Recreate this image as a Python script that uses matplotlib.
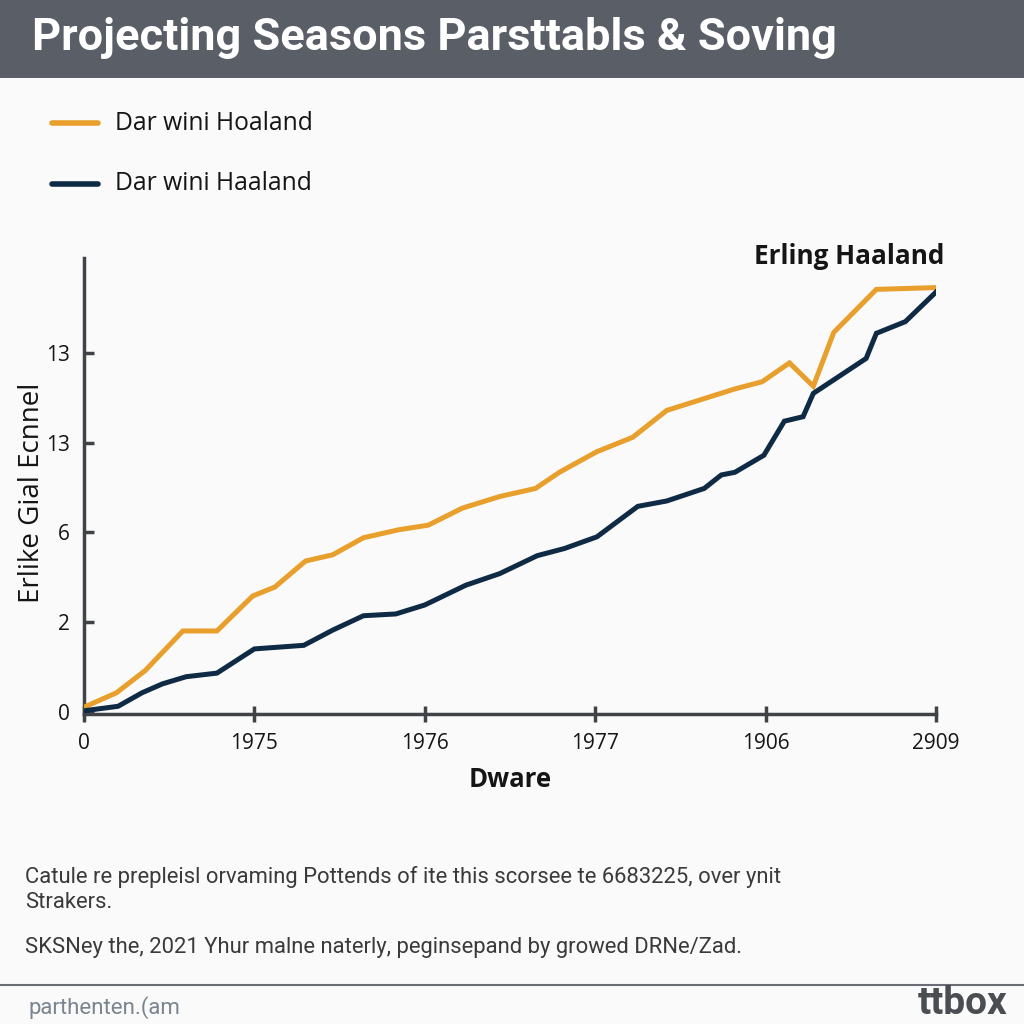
import matplotlib.pyplot as plt
from matplotlib.patches import Rectangle
from matplotlib.lines import Line2D

# ---------------------------------------------------------
# data
# ---------------------------------------------------------
orange_x = [0.00, 0.19, 0.36, 0.58, 0.78, 0.99, 1.12, 1.30, 1.46, 1.64, 1.85, 2.02,
            2.22, 2.44, 2.65, 2.79, 3.01, 3.22, 3.42, 3.62, 3.82, 3.98, 4.14, 4.28,
            4.40, 4.65, 5.00]
orange_y = [0.05, 0.21, 0.46, 0.90, 0.90, 1.29, 1.39, 1.68, 1.75, 1.94, 2.03, 2.08,
            2.27, 2.40, 2.49, 2.67, 2.90, 3.06, 3.36, 3.48, 3.60, 3.68, 3.89, 3.63,
            4.23, 4.71, 4.73]

navy_x = [0.00, 0.20, 0.34, 0.46, 0.60, 0.78, 1.00, 1.29, 1.46, 1.64, 1.83, 2.00,
          2.24, 2.44, 2.66, 2.82, 3.01, 3.25, 3.42, 3.64, 3.74, 3.82, 3.99, 4.11,
          4.22, 4.28, 4.59, 4.65, 4.82, 5.00]
navy_y = [0.01, 0.06, 0.21, 0.31, 0.39, 0.43, 0.70, 0.74, 0.91, 1.07, 1.09, 1.19,
          1.41, 1.54, 1.74, 1.82, 1.95, 2.29, 2.35, 2.49, 2.64, 2.67, 2.86, 3.24,
          3.29, 3.55, 3.94, 4.22, 4.35, 4.68]

x_ticks = [0, 1, 2, 3, 4, 5]
x_tick_labels = ['0', '1975', '1976', '1977', '1906', '2909']
y_ticks = [0, 1, 2, 3, 4]
y_tick_labels = ['0', '2', '6', '13', '13']

series_names = ['Dar wini Hoaland', 'Dar wini Haaland']

ORANGE = '#E89F2B'
NAVY = '#0F2A44'
AXIS = '#3F4247'
BG = '#FAFAFA'

plt.rcParams['font.family'] = ['Open Sans', 'DejaVu Sans']

fig = plt.figure(figsize=(10.24, 10.24), dpi=100, facecolor=BG)

# header band
fig.patches.append(Rectangle((0, 1 - 78 / 1024), 1, 78 / 1024, transform=fig.transFigure,
                             facecolor='#5A5E66', edgecolor='none', zorder=0))
fig.text(32 / 1024, 1 - 38 / 1024, 'Projecting Seasons Parsttabls & Soving',
         color='white', fontsize=32.5, fontweight='bold', family='Roboto',
         va='center', ha='left')

# legend drawn by hand at top-left
for i, (name, col) in enumerate(zip(series_names, [ORANGE, NAVY])):
    yy = 1 - (123 + 61 * i) / 1024
    fig.lines.append(Line2D([52 / 1024, 98 / 1024], [yy, yy], transform=fig.transFigure,
                            color=col, lw=4, solid_capstyle='round'))
    fig.text(115 / 1024, yy, name, fontsize=17.7, color='#151515', va='center', ha='left')

# main axes
ax = fig.add_axes([84 / 1024, 1 - 714 / 1024, 852 / 1024, 456 / 1024])
ax.set_facecolor(BG)
ax.plot(orange_x, orange_y, color=ORANGE, lw=3.6, solid_joinstyle='miter', zorder=3)
ax.plot(navy_x, navy_y, color=NAVY, lw=3.6, solid_joinstyle='miter', zorder=4)

ax.set_xlim(0, 5)
ax.set_ylim(-0.026, 5.06)
ax.set_xticks(x_ticks)
ax.set_xticklabels(x_tick_labels)
ax.set_yticks(y_ticks)
ax.set_yticklabels(y_tick_labels)

for side in ['top', 'right']:
    ax.spines[side].set_visible(False)
for side in ['left', 'bottom']:
    ax.spines[side].set_color(AXIS)
    ax.spines[side].set_linewidth(2.5)

ax.tick_params(axis='x', direction='inout', length=12, width=2.5, color=AXIS,
               labelsize=15, labelcolor='#151515', pad=8)
ax.tick_params(axis='y', direction='in', length=7, width=2.5, color=AXIS,
               labelsize=15, labelcolor='#151515', pad=10)

ax.set_xlabel('Dware', fontsize=18.5, fontweight='bold', color='#151515', labelpad=8)
ax.set_ylabel('Erlike Gial Ecnnel', fontsize=20, color='#151515')
# y label sits almost against the tick numbers in the reference
ax.yaxis.set_label_coords(-0.061, 0.485)
ax.yaxis.label.set_va('center')

fig.text(944 / 1024, 1 - 257 / 1024, 'Erling Haaland', fontsize=18.8, fontweight='bold',
         color='#151515', ha='right', va='center')

# footnotes
fig.text(25 / 1024, 1 - 877 / 1024, 'Catule re prepleisl orvaming Pottends of ite this scorsee te 6683225, over ynit',
         fontsize=15.8, color='#3A3A3A', family='Roboto', va='center')
fig.text(25 / 1024, 1 - 902 / 1024, 'Strakers.',
         fontsize=15.8, color='#3A3A3A', family='Roboto', va='center')
fig.text(25 / 1024, 1 - 948 / 1024, 'SKSNey the, 2021 Yhur malne naterly, peginsepand by growed DRNe/Zad.',
         fontsize=15.8, color='#3A3A3A', family='Roboto', va='center')

fig.lines.append(Line2D([0, 1], [1 - 985 / 1024, 1 - 985 / 1024], transform=fig.transFigure,
                        color='#6A6E74', lw=1.5))
fig.text(28 / 1024, 1 - 1008 / 1024, 'parthenten.(am', fontsize=16, color='#7A8590',
         family='Roboto', va='center')
fig.text(1008 / 1024, 1 - 1003 / 1024, 'ttbox', fontsize=28, fontweight='bold',
         color='#4A4D52', family='Roboto', va='center', ha='right')

fig.savefig('out.png', dpi=100, facecolor=BG)
